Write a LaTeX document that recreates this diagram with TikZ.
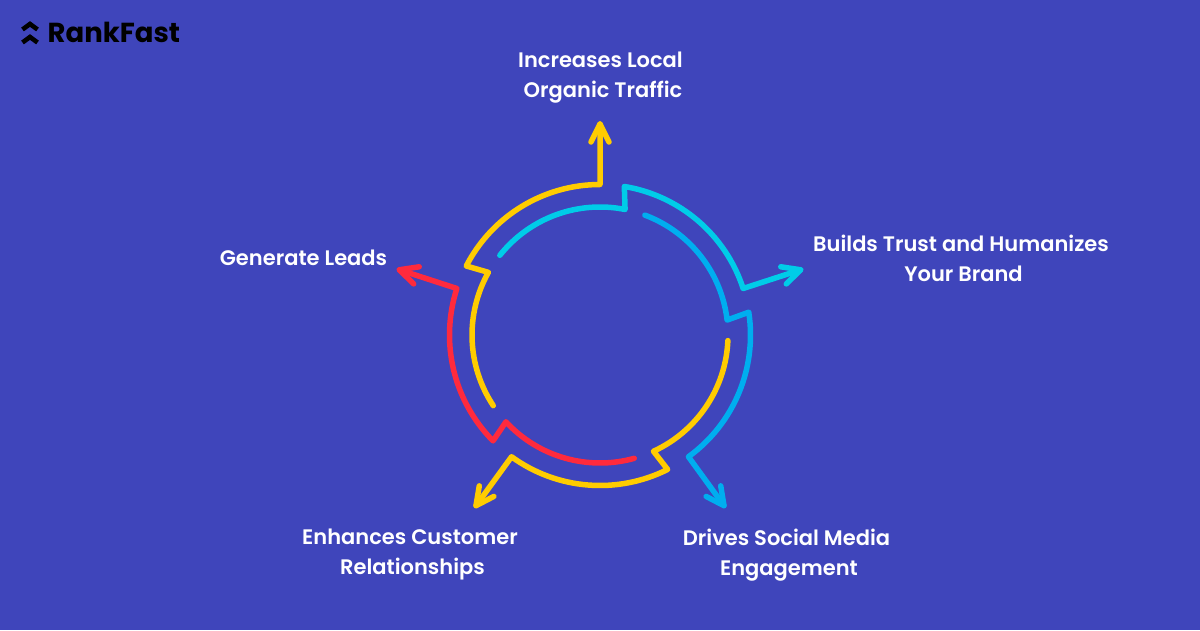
\documentclass[tikz,border=0pt]{standalone}
\usepackage{fontspec}
\setmainfont{Poppins}[UprightFont=* SemiBold,BoldFont=* Bold]
\definecolor{bg}{HTML}{3F45BB}
\definecolor{cyanc}{HTML}{00CCE8}
\definecolor{bluec}{HTML}{00AEEF}
\definecolor{yellowc}{HTML}{FFCC00}
\definecolor{redc}{HTML}{FF2A3D}
\tikzset{
  x=1pt,y=1pt,
  seg/.style={line width=5.5pt,line cap=round,line join=round},
  lab/.style={text=white,font=\fontsize{21}{30}\selectfont,align=center,inner sep=0pt,anchor=center},
  chev/.style={line width=4.6pt,line join=miter,black}
}
\newcommand{\spoke}[2]{%
  \begin{scope}[shift={(600,295)},rotate=#1]
    \coordinate (s#1) at (213.5:128);
    \coordinate (k#1) at (150.7:128);
    \coordinate (n#1) at (152.7:150.5);
    \coordinate (e#1) at (90:150);
    \coordinate (t#1) at (90:211);
    \coordinate (a#1) at (-9,193);
    \coordinate (b#1) at (9,193);
    \draw[seg,#2] (s#1) arc[start angle=213.5,end angle=150.7,radius=128]
      -- (n#1) arc[start angle=152.7,end angle=90,radius=150.5] -- (t#1);
    \draw[seg,#2] (a#1) -- (t#1) -- (b#1);
  \end{scope}}
\begin{document}
\begin{tikzpicture}
\useasboundingbox (0,0) rectangle (1200,630);
\fill[bg] (0,0) rectangle (1200,630);
\spoke{-72}{cyanc}
\spoke{-144}{bluec}
\spoke{-216}{yellowc}
\spoke{-288}{redc}
\spoke{0}{yellowc}
\draw[chev] (22.5,600.5) -- (30,606) -- (37.5,600.5);
\draw[chev] (22.5,587.5) -- (30,593) -- (37.5,587.5);
\node[font=\fontsize{27.5}{27.5}\selectfont\bfseries,text=black,anchor=base west,inner sep=0pt] (logo) at (47.5,587) {RankFast};
\node[lab] (t1) at (600.5,552) {Increases Local\\\hspace*{5pt}Organic Traffic};
\node[lab] (t2) at (961,372) {Builds Trust and Humanizes\\\hspace*{5pt}Your Brand};
\node[lab] (t3) at (786.5,75) {Drives Social Media\\\hspace*{5pt}Engagement};
\node[lab] (t4) at (410,75) {Enhances Customer\\\hspace*{5pt}Relationships};
\node[lab] (t5) at (303.5,372) {Generate Leads};
\end{tikzpicture}
\end{document}
